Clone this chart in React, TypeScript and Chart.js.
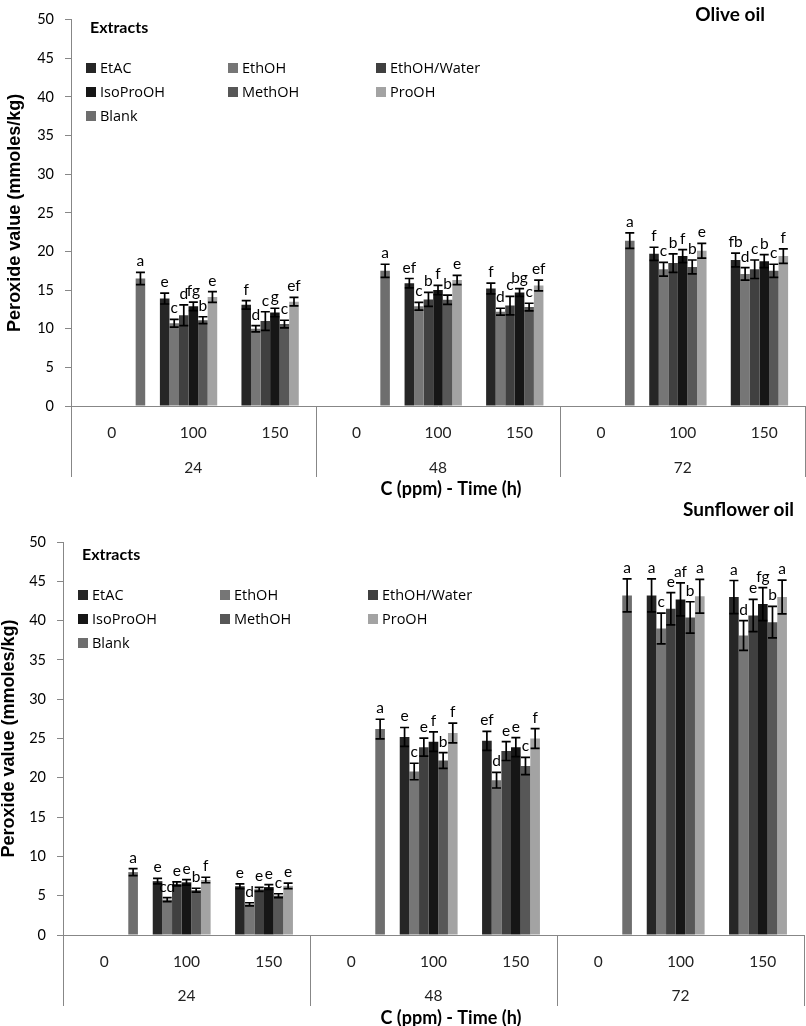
import React, { useEffect, useRef } from 'react';
import { Chart, registerables } from 'chart.js';

Chart.register(...registerables);

// ---------- categories ----------
const concLabels = ['0', '100', '150', '0', '100', '150', '0', '100', '150'];
const timeLabels = ['24', '48', '72'];
const seriesNames = ['EtAC', 'EthOH', 'EthOH/Water', 'IsoProOH', 'MethOH', 'ProOH', 'Blank'];
const seriesColors = ['#262626', '#767676', '#404040', '#161616', '#575757', '#a3a3a3', '#6e6e6e'];
const yTicks = [0, 5, 10, 15, 20, 25, 30, 35, 40, 45, 50];
const xAxisTitle = 'C (ppm) - Time (h)';
const yAxisTitle = 'Peroxide value (mmoles/kg)';

// ---------- Olive oil ----------
const oliveEtAC = [null, 13.9, 13.1, null, 15.9, 15.2, null, 19.7, 18.9];
const oliveEthOH = [null, 10.7, 10.0, null, 12.9, 12.2, null, 17.7, 17.1];
const oliveEthOHWater = [null, 11.75, 11.0, null, 13.8, 13.0, null, 18.5, 17.7];
const oliveIsoProOH = [null, 12.9, 12.1, null, 15.0, 14.7, null, 19.4, 18.75];
const oliveMethOH = [null, 11.1, 10.6, null, 13.75, 12.8, null, 18.0, 17.5];
const oliveProOH = [null, 14.1, 13.5, null, 16.3, 15.6, null, 20.1, 19.4];
const oliveBlank = [16.5, null, null, 17.5, null, null, 21.4, null, null];

const oliveEtACErr = [null, 0.7, 0.55, null, 0.6, 0.7, null, 0.85, 0.9];
const oliveEthOHErr = [null, 0.5, 0.4, null, 0.5, 0.45, null, 0.9, 0.8];
const oliveEthOHWaterErr = [null, 1.35, 1.2, null, 0.9, 1.2, null, 1.2, 1.2];
const oliveIsoProOHErr = [null, 0.55, 0.55, null, 0.6, 0.5, null, 0.85, 0.85];
const oliveMethOHErr = [null, 0.45, 0.5, null, 0.6, 0.5, null, 0.9, 0.85];
const oliveProOHErr = [null, 0.7, 0.55, null, 0.6, 0.7, null, 0.95, 0.95];
const oliveBlankErr = [0.8, null, null, 0.85, null, null, 1.0, null, null];

const oliveEtACSig = ['', 'e', 'f', '', 'ef', 'f', '', 'f', 'fb'];
const oliveEthOHSig = ['', 'c', 'd', '', 'c', 'd', '', 'c', 'd'];
const oliveEthOHWaterSig = ['', 'd', 'c', '', 'b', 'c', '', 'b', 'c'];
const oliveIsoProOHSig = ['', 'fg', 'g', '', 'f', 'bg', '', 'f', 'b'];
const oliveMethOHSig = ['', 'b', 'c', '', 'b', 'c', '', 'b', 'c'];
const oliveProOHSig = ['', 'e', 'ef', '', 'e', 'ef', '', 'e', 'f'];
const oliveBlankSig = ['a', '', '', 'a', '', '', 'a', '', ''];

// ---------- Sunflower oil ----------
const sunEtAC = [null, 6.85, 6.2, null, 25.2, 24.7, null, 43.2, 43.0];
const sunEthOH = [null, 4.5, 3.9, null, 20.8, 19.7, null, 39.0, 38.1];
const sunEthOHWater = [null, 6.5, 5.8, null, 23.9, 23.4, null, 41.5, 40.65];
const sunIsoProOH = [null, 6.7, 6.1, null, 24.6, 23.9, null, 42.7, 42.1];
const sunMethOH = [null, 5.7, 5.0, null, 22.2, 21.5, null, 40.4, 39.8];
const sunProOH = [null, 7.0, 6.25, null, 25.7, 25.0, null, 43.1, 43.0];
const sunBlank = [8.0, null, null, 26.2, null, null, 43.2, null, null];

const sunEtACErr = [null, 0.35, 0.3, null, 1.2, 1.2, null, 2.1, 2.1];
const sunEthOHErr = [null, 0.25, 0.2, null, 1.05, 1.0, null, 1.95, 1.9];
const sunEthOHWaterErr = [null, 0.25, 0.25, null, 1.15, 1.2, null, 2.05, 2.05];
const sunIsoProOHErr = [null, 0.35, 0.3, null, 1.25, 1.2, null, 2.1, 2.1];
const sunMethOHErr = [null, 0.25, 0.25, null, 1.0, 1.1, null, 2.0, 2.0];
const sunProOHErr = [null, 0.35, 0.35, null, 1.25, 1.25, null, 2.15, 2.15];
const sunBlankErr = [0.45, null, null, 1.25, null, null, 2.1, null, null];

const sunEtACSig = ['', 'e', 'e', '', 'e', 'ef', '', 'a', 'a'];
const sunEthOHSig = ['', 'cd', 'd', '', 'c', 'd', '', 'c', 'd'];
const sunEthOHWaterSig = ['', 'e', 'e', '', 'e', 'e', '', 'e', 'e'];
const sunIsoProOHSig = ['', 'e', 'e', '', 'f', 'e', '', 'af', 'fg'];
const sunMethOHSig = ['', 'b', 'c', '', 'b', 'c', '', 'b', 'b'];
const sunProOHSig = ['', 'f', 'e', '', 'f', 'f', '', 'a', 'a'];
const sunBlankSig = ['a', '', '', 'a', '', '', 'a', '', ''];

const AXIS = '#878787';

const errorBarPlugin = {
  id: 'errorBars',
  afterDatasetsDraw(chart: any) {
    const { ctx } = chart;
    const ys = chart.scales.y;
    chart.data.datasets.forEach((ds: any, di: number) => {
      const meta = chart.getDatasetMeta(di);
      ds.data.forEach((v: number | null, i: number) => {
        if (v == null) return;
        const bar = meta.data[i];
        const e = ds.errors[i] || 0;
        const x = bar.x;
        const yt = ys.getPixelForValue(v + e);
        const yb = ys.getPixelForValue(v - e);
        ctx.save();
        ctx.strokeStyle = '#000';
        ctx.lineWidth = 1.7;
        ctx.beginPath();
        ctx.moveTo(x, yt);
        ctx.lineTo(x, yb);
        ctx.moveTo(x - 4.5, yt);
        ctx.lineTo(x + 4.5, yt);
        ctx.moveTo(x - 4.5, yb);
        ctx.lineTo(x + 4.5, yb);
        ctx.stroke();
        const s = ds.sig[i];
        if (s) {
          ctx.font = '15.5px Lato';
          ctx.textAlign = 'center';
          ctx.textBaseline = 'alphabetic';
          ctx.fillStyle = '#000';
          ctx.fillText(s, x, yt - 6);
        }
        ctx.restore();
      });
    });
  },
};

const dividerPlugin = {
  id: 'groupDividers',
  afterDraw(chart: any) {
    const { ctx, chartArea } = chart;
    const xs = chart.scales.x;
    const b1 = (xs.getPixelForValue(2) + xs.getPixelForValue(3)) / 2;
    const b2 = (xs.getPixelForValue(5) + xs.getPixelForValue(6)) / 2;
    const list = [chartArea.left, b1, b2, chartArea.right];
    ctx.save();
    ctx.strokeStyle = AXIS;
    ctx.lineWidth = 1;
    list.forEach((px) => {
      const p = Math.round(px) + 0.5;
      ctx.beginPath();
      ctx.moveTo(p, chartArea.bottom);
      ctx.lineTo(p, chartArea.bottom + 71);
      ctx.stroke();
    });
    // x-axis title
    ctx.font = 'bold 18px Lato';
    ctx.fillStyle = '#000';
    ctx.textAlign = 'center';
    ctx.textBaseline = 'middle';
    ctx.fillText(xAxisTitle, 451, chartArea.bottom + 83);
    ctx.restore();
  },
};

type PanelCfg = {
  top: number;
  height: number;
  axisLeft: number;
  padTop: number;
  padRight: number;
  x2Height: number;
  x2Pad: number;
  yTitlePad: number;
  values: (number | null)[][];
  errors: (number | null)[][];
  sigs: string[][];
};

function Panel({ cfg }: { cfg: PanelCfg }) {
  const ref = useRef<HTMLCanvasElement>(null);
  useEffect(() => {
    if (!ref.current) return;
    const chart = new Chart(ref.current, {
      type: 'bar',
      data: {
        labels: concLabels,
        datasets: seriesNames.map((n, i) => ({
          label: n,
          data: cfg.values[i],
          errors: cfg.errors[i],
          sig: cfg.sigs[i],
          backgroundColor: seriesColors[i],
          borderWidth: 0,
          barPercentage: 1,
          categoryPercentage: 0.82,
        })) as any,
      },
      options: {
        responsive: false,
        animation: false,
        layout: { padding: { top: cfg.padTop, right: cfg.padRight, left: 0, bottom: 0 } },
        plugins: { legend: { display: false }, title: { display: false }, tooltip: { enabled: false } },
        scales: {
          x: {
            type: 'category',
            position: 'bottom',
            weight: 0,
            grid: { display: false, drawTicks: false },
            border: { display: true, color: AXIS, width: 1 },
            ticks: { padding: 18, color: '#222', font: { family: 'Lato', size: 15.5 }, maxRotation: 0, autoSkip: false },
            afterFit: (s: any) => { s.height = 45; },
          },
          x2: {
            type: 'category',
            position: 'bottom',
            weight: 1,
            labels: timeLabels,
            offset: true,
            grid: { display: false, drawTicks: false },
            border: { display: false },
            ticks: { padding: cfg.x2Pad, color: '#222', font: { family: 'Lato', size: 15.5 }, maxRotation: 0 },
            afterFit: (s: any) => { s.height = cfg.x2Height; },
          },
          y: {
            type: 'linear',
            min: 0,
            max: 50,
            afterBuildTicks: (s: any) => { s.ticks = yTicks.map((v) => ({ value: v })); },
            grid: { drawOnChartArea: false, drawTicks: true, tickLength: 6, color: AXIS },
            border: { display: true, color: AXIS, width: 1 },
            ticks: { padding: 11, color: '#000', font: { family: 'Lato', size: 14.5 } },
            title: {
              display: true,
              text: yAxisTitle,
              color: '#000',
              font: { family: 'Liberation Sans', size: 18, weight: 'bold', lineHeight: 1 },
              padding: { top: cfg.yTitlePad, bottom: 0 },
            },
            afterFit: (s: any) => { s.width = cfg.axisLeft; },
          },
        },
      } as any,
      plugins: [errorBarPlugin, dividerPlugin],
    });
    return () => chart.destroy();
  }, [cfg]);
  return (
    <canvas
      ref={ref}
      width={806}
      height={cfg.height}
      style={{ position: 'absolute', left: 0, top: cfg.top, width: 806, height: cfg.height }}
    />
  );
}

function Legend({ dx, dy }: { dx: number; dy: number }) {
  const cols = [86, 228, 376];
  return (
    <>
      <div style={{ position: 'absolute', left: 90 + dx, top: 17 + dy, font: 'bold 16px Lato', lineHeight: '20px', color: '#000', whiteSpace: 'nowrap' }}>
        Extracts
      </div>
      {seriesNames.map((n, i) => {
        const col = i % 3;
        const row = Math.floor(i / 3);
        return (
          <div
            key={n}
            style={{ position: 'absolute', left: cols[col] + dx, top: 58 + row * 24 + dy, height: 20, display: 'flex', alignItems: 'center', whiteSpace: 'nowrap' }}
          >
            <span style={{ display: 'inline-block', width: 10, height: 10, background: seriesColors[i], marginRight: 4 }} />
            <span style={{ font: '14.5px "Open Sans"', lineHeight: '20px', color: '#000' }}>{n}</span>
          </div>
        );
      })}
    </>
  );
}

const oliveCfg: PanelCfg = {
  top: 0,
  height: 498,
  axisLeft: 71,
  padTop: 15,
  padRight: 1,
  x2Height: 47,
  x2Pad: 8,
  yTitlePad: 6,
  values: [oliveEtAC, oliveEthOH, oliveEthOHWater, oliveIsoProOH, oliveMethOH, oliveProOH, oliveBlank],
  errors: [oliveEtACErr, oliveEthOHErr, oliveEthOHWaterErr, oliveIsoProOHErr, oliveMethOHErr, oliveProOHErr, oliveBlankErr],
  sigs: [oliveEtACSig, oliveEthOHSig, oliveEthOHWaterSig, oliveIsoProOHSig, oliveMethOHSig, oliveProOHSig, oliveBlankSig],
};

const sunCfg: PanelCfg = {
  top: 498,
  height: 528,
  axisLeft: 63,
  padTop: 44,
  padRight: 2,
  x2Height: 46,
  x2Pad: 7,
  yTitlePad: 0,
  values: [sunEtAC, sunEthOH, sunEthOHWater, sunIsoProOH, sunMethOH, sunProOH, sunBlank],
  errors: [sunEtACErr, sunEthOHErr, sunEthOHWaterErr, sunIsoProOHErr, sunMethOHErr, sunProOHErr, sunBlankErr],
  sigs: [sunEtACSig, sunEthOHSig, sunEthOHWaterSig, sunIsoProOHSig, sunMethOHSig, sunProOHSig, sunBlankSig],
};

export default function App() {
  return (
    <div style={{ position: 'absolute', left: 0, top: 0, width: 806, height: 1026, overflow: 'hidden', background: '#fff' }}>
      <Panel cfg={oliveCfg} />
      <Panel cfg={sunCfg} />
      <div style={{ position: 'absolute', right: 41, top: 3, font: 'bold 19px Lato', lineHeight: '22px', color: '#000', whiteSpace: 'nowrap' }}>
        Olive oil
      </div>
      <div style={{ position: 'absolute', right: 12, top: 498, font: 'bold 19px Lato', lineHeight: '22px', color: '#000', whiteSpace: 'nowrap' }}>
        Sunflower oil
      </div>
      <Legend dx={0} dy={0} />
      <Legend dx={-8} dy={527} />
    </div>
  );
}
